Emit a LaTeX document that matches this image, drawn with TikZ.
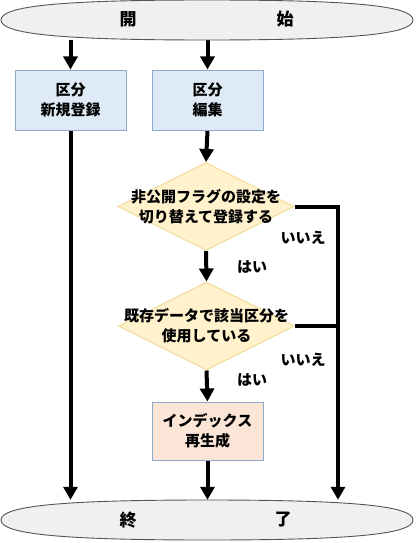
\documentclass[tikz,border=0pt]{standalone}
\usepackage{fontspec}
\setmainfont{Noto Sans CJK JP}
\usetikzlibrary{shapes.geometric,arrows.meta}
\pgfdeclarelayer{bg}
\pgfsetlayers{bg,main}
\definecolor{termfill}{HTML}{F0F0F0}
\definecolor{termdraw}{HTML}{555555}
\definecolor{bluefill}{HTML}{DEEBF7}
\definecolor{bluedraw}{HTML}{8FAAC8}
\definecolor{yelfill}{HTML}{FFF2CC}
\definecolor{yeldraw}{HTML}{F2DC98}
\definecolor{pfill}{HTML}{FBE5D6}
\tikzset{
  txt/.style={font={\fontsize{15}{20}\selectfont\bfseries}, align=center, inner sep=0pt},
  bigtxt/.style={font={\fontsize{17}{20}\selectfont\bfseries}, inner sep=0pt},
  term/.style={fill=termfill, draw=termdraw, line width=0.9pt},
  procbox/.style={draw=bluedraw, line width=1pt, minimum width=111pt, minimum height=60pt, inner sep=0pt},
  decision/.style={diamond, draw=yeldraw, fill=yelfill, line width=1pt, minimum width=176pt, minimum height=88pt, inner sep=0pt},
  flow/.style={line width=4pt, line join=miter, -{Triangle[width=14pt,length=13pt]}},
  flowline/.style={line width=4pt, line join=miter},
}
\begin{document}
\begin{tikzpicture}[x=1pt,y=-1pt]
\useasboundingbox (0,0) rectangle (415,543);
% terminals
\draw[term] (1,20) .. controls (1,6) and (60,0) .. (207,0) .. controls (354,0) and (413,6) .. (413,20) .. controls (413,34) and (354,40) .. (207,40) .. controls (60,40) and (1,34) .. (1,20);
\node[inner sep=0pt, minimum width=412pt, minimum height=40pt] (start) at (207,20) {};
\node[bigtxt] (startA) at (128,19) {開};
\node[bigtxt] (startB) at (285,19) {始};
\draw[term] (1,520) .. controls (1,506) and (60,500) .. (207,500) .. controls (354,500) and (413,506) .. (413,520) .. controls (413,534) and (354,540) .. (207,540) .. controls (60,540) and (1,534) .. (1,520);
\node[inner sep=0pt, minimum width=412pt, minimum height=40pt] (stop) at (207,520) {};
\node[bigtxt] (stopA) at (128,520) {終};
\node[bigtxt] (stopB) at (283,520) {了};
% boxes
\node[procbox, fill=bluefill] (reg) at (70.5,100) {};
\node[txt] (regT) at (reg.center) {区分\\新規登録};
\node[procbox, fill=bluefill] (edit) at (207.5,100) {};
\node[txt] (editT) at (edit.center) {区分\\編集};
\node[decision] (d1) at (206,206.5) {};
\node[txt] (d1T) at (d1.center) {非公開フラグの設定を\\切り替えて登録する};
\node[decision] (d2) at (206.5,326) {};
\node[txt] (d2T) at (d2.center) {既存データで該当区分を\\使用している};
\node[procbox, fill=pfill, minimum height=58pt] (idx) at (207.5,431) {};
\node[txt] (idxT) at (idx.center) {インデックス\\再生成};
% labels
\node[txt] (no1) at (303,238) {いいえ};
\node[txt] (yes1) at (252,267) {はい};
\node[txt] (no2) at (303,360) {いいえ};
\node[txt] (yes2) at (252,380) {はい};
\coordinate (rc1) at (338,206.5);
\coordinate (rc2) at (338,326);
% connectors
\begin{pgfonlayer}{bg}
\draw[flow] (reg.north |- start.south) -- (reg.north);
\draw[flow] (edit.north |- start.south) -- (edit.north);
\draw[flow] (reg.south) -- (reg.south |- stop.north);
\draw[flow] (edit.south) -- (d1.north);
\draw[flow] (d1.south) -- (d2.north);
\draw[flow] (d2.south) -- (idx.north);
\draw[flow] (idx.south) -- (idx.south |- stop.north);
\draw[flow] (d1.east) -- (rc1) -- (rc1 |- stop.north);
\draw[flowline] (d2.east) -- (rc2);
\end{pgfonlayer}
\end{tikzpicture}
\end{document}
